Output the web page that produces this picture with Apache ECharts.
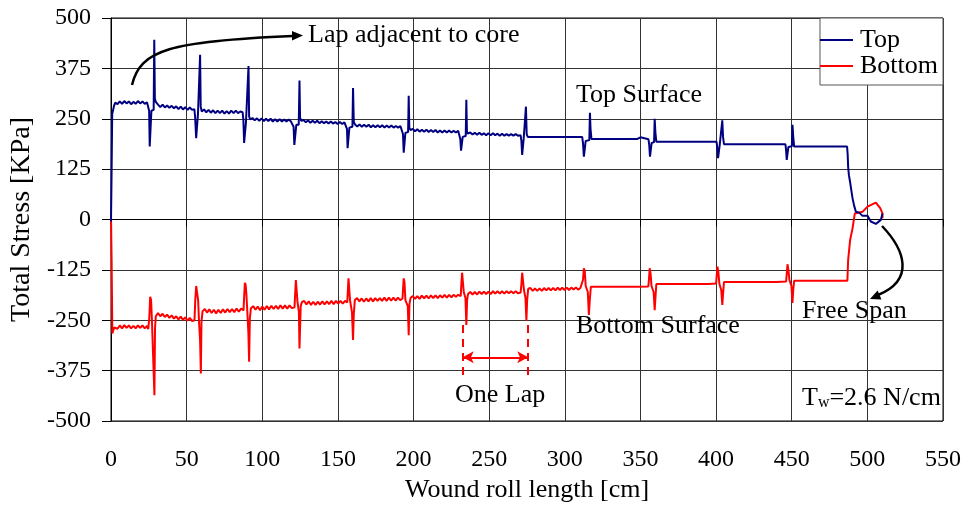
<!DOCTYPE html>
<html>
<head>
<meta charset="utf-8">
<script src="https://cdn.jsdelivr.net/npm/echarts@6/dist/echarts.min.js"></script>
<style>
  html, body { margin: 0; padding: 0; background: #fff; }
  #chart { width: 967px; height: 512px; }
</style>
</head>
<body>
<div id="chart"></div>
<script>
// wound roll length [cm] vs total stress [KPa]
const topData = [
  [0, -5], [0.4, 120], [0.8, 262], [1.5, 265], [2, 282], [2.8, 290],
  [4.3, 286], [5.8, 293], [7.3, 287], [8.8, 294], [10.3, 288], [11.8, 293], [13.3, 286], [14.8, 292],
  [16.3, 287], [17.8, 294], [19.3, 288], [20.8, 293], [22.3, 287], [23.8, 291], [24.8, 289],
  [25.2, 270], [25.6, 181], [26.2, 181], [26.7, 270], [28.2, 272], [28.6, 446], [29.0, 300], [29.6, 292],
  [31.1, 285], [32.6, 279], [34.1, 285], [35.6, 278], [37.1, 283], [38.6, 277], [40.1, 282], [41.6, 276],
  [43.1, 281], [44.6, 274], [46.1, 280], [47.6, 273], [49.1, 279], [50.6, 272], [52.1, 278], [53.6, 272], [55.1, 274],
  [55.6, 255], [56.3, 202], [56.9, 202], [57.5, 262], [58.5, 262], [58.9, 409], [59.3, 280], [60, 268],
  [61.5, 273], [63, 266], [64.5, 272], [66, 265], [67.5, 271], [69, 264], [70.5, 270], [72, 264], [73.5, 270],
  [75, 263], [76.5, 269], [78, 263], [79.5, 270], [81, 264], [82.5, 270], [84, 264], [85.5, 268], [87, 266],
  [87.5, 248], [88, 190], [88.6, 190], [89.2, 240], [90.4, 240], [90.9, 381], [91.3, 256], [92, 248],
  [93.5, 252], [95, 246], [96.5, 251], [98, 245], [99.5, 251], [101, 244], [102.5, 250], [104, 244], [105.5, 250],
  [107, 243], [108.5, 249], [110, 243], [111.5, 249], [113, 243], [114.5, 248], [116, 243], [117.5, 248], [119, 243], [120.3, 245],
  [120.7, 230], [121.2, 185], [121.8, 185], [122.5, 235], [124.1, 235], [124.6, 345], [125, 252], [125.8, 245],
  [127.3, 247], [128.8, 241], [130.3, 246], [131.8, 240], [133.3, 245], [134.8, 240], [136.3, 245], [137.8, 239],
  [139.3, 244], [140.8, 239], [142.3, 243], [143.8, 238], [145.3, 243], [146.8, 238], [148.3, 242], [149.8, 237],
  [151.3, 242], [152.8, 237], [154.3, 241], [155.6, 238],
  [156, 225], [156.4, 177], [157, 177], [157.6, 228], [159.6, 230], [160, 326], [160.5, 242], [161.3, 236],
  [162.8, 231], [164.3, 236], [165.8, 230], [167.3, 235], [168.8, 230], [170.3, 235], [171.8, 229], [173.3, 234],
  [174.8, 229], [176.3, 234], [177.8, 229], [179.3, 234], [180.8, 228], [182.3, 233], [183.8, 228], [185.3, 233],
  [186.8, 228], [188.3, 232], [189.8, 228], [191.3, 232], [192.6, 230],
  [193, 212], [193.5, 166], [194, 166], [194.6, 215], [196.4, 217], [196.8, 307], [197.2, 228], [198, 222],
  [199.5, 225], [201, 219], [202.5, 224], [204, 218], [205.5, 223], [207, 218], [208.5, 223], [210, 217],
  [211.5, 222], [213, 217], [214.5, 222], [216, 216], [217.5, 221], [219, 216], [220.5, 221], [222, 216],
  [223.5, 221], [225, 216], [226.5, 220], [228, 216], [229.5, 220], [230.5, 218],
  [230.9, 200], [231.4, 171], [231.9, 171], [232.5, 205], [234.5, 207], [234.9, 297], [235.3, 218], [236, 213],
  [237.5, 216], [239, 211], [240.5, 215], [242, 210], [243.5, 215], [245, 210], [246.5, 214], [248, 209],
  [249.5, 214], [251, 209], [252.5, 214], [254, 209], [255.5, 213], [257, 208], [258.5, 213], [260, 208],
  [261.5, 212], [263, 208], [264.5, 212], [266, 208], [267.5, 212], [269, 208], [270.8, 209],
  [271.3, 195], [271.8, 160], [272.3, 160], [272.8, 200], [273.9, 202], [274.3, 280], [274.8, 212], [275.5, 205],
  [280, 205], [281, 201], [282, 205], [288, 205], [289, 201], [290, 205], [297, 205], [298, 201], [299, 205],
  [305, 205], [306, 202], [307, 205], [311.5, 205],
  [312, 190], [312.6, 156], [313.2, 156], [313.8, 195], [316.2, 197], [316.6, 265], [317, 225], [317.6, 200],
  [322, 200], [323, 197], [324, 200], [330, 200], [331, 197], [332, 200], [339, 200], [340, 197], [341, 200],
  [348, 200], [349, 204], [350, 204], [351, 200], [355.3, 199],
  [355.8, 185], [356.3, 156], [356.8, 156], [357.4, 190], [359, 192], [359.4, 250], [359.9, 215], [360.5, 193],
  [366, 193], [367, 190], [368, 193], [374, 193], [375, 190], [376, 193], [381, 193], [382, 190], [383, 193],
  [388, 193], [389, 190], [390, 193], [394, 193], [395, 190], [396, 193], [400.3, 193],
  [400.8, 178], [401.3, 152], [401.8, 152], [402.4, 185], [403.7, 187], [404.1, 246], [404.6, 205], [405.2, 187],
  [410, 187], [411, 184], [412, 187], [420, 187], [421, 184], [422, 187], [431, 187], [432, 184], [433, 187],
  [440, 187], [441, 184], [442, 187], [445.8, 187],
  [446.2, 175], [446.7, 148], [447.2, 148], [447.8, 180], [450.1, 182], [450.5, 235], [451, 205], [451.6, 181],
  [486.6, 181],
  [487.0, 160], [487.3, 130], [487.8, 110], [488.5, 95], [489.5, 70], [490.2, 53], [491.2, 35], [492.4, 19],
  [494.6, 17], [496.8, 9], [500.1, 9], [502.3, -5], [505.6, -11], [508.9, -1], [510, 15]
]

const bottomData = [
  [0, 8], [0.4, -100], [0.9, -283], [1.5, -283], [2.1, -268], [2.8, -265],
  [4.3, -271], [5.8, -263], [7.3, -270], [8.8, -262], [10.3, -269], [11.8, -263], [13.3, -270], [14.8, -264],
  [16.3, -270], [17.8, -263], [19.3, -269], [20.8, -263], [22.3, -270], [23.8, -264], [24.6, -272],
  [25.3, -245], [25.9, -192], [26.5, -200], [27.1, -255], [28.3, -255], [28.7, -436], [29.1, -270], [29.6, -240],
  [31.1, -232], [32.6, -240], [34.1, -234], [35.6, -242], [37.1, -236], [38.6, -244], [40.1, -238], [41.6, -246],
  [43.1, -240], [44.6, -248], [46.1, -241], [47.6, -249], [49.1, -243], [50.6, -251], [52.1, -244], [53.6, -252], [55.2, -250],
  [55.7, -200], [56.3, -165], [57, -165], [57.6, -200], [58.2, -255], [58.9, -300], [59.4, -382], [59.8, -255], [60.5, -228],
  [62, -222], [63.5, -231], [65, -223], [66.5, -232], [68, -224], [69.5, -233], [71, -224], [72.5, -232], [74, -223],
  [75.5, -231], [77, -222], [78.5, -230], [80, -222], [81.5, -230], [83, -221], [84.5, -229], [86, -221], [87.6, -226],
  [88.1, -185], [88.5, -157], [89, -162], [89.5, -185], [90.2, -235], [90.8, -280], [91.3, -353], [91.8, -245], [92.5, -220],
  [94, -215], [95.5, -224], [97, -216], [98.5, -225], [100, -216], [101.5, -224], [103, -215], [104.5, -223], [106, -214],
  [107.5, -222], [109, -214], [110.5, -222], [112, -213], [113.5, -221], [115, -213], [116.5, -221], [118, -213], [119.5, -220], [121.3, -218],
  [121.8, -180], [122.2, -150], [122.8, -150], [123.3, -205], [124.2, -230], [124.6, -320], [125, -320], [125.4, -215], [126.2, -205],
  [127.7, -202], [129.2, -211], [130.7, -203], [132.2, -212], [133.7, -204], [135.2, -212], [136.7, -204], [138.2, -211],
  [139.7, -203], [141.2, -211], [142.7, -203], [144.2, -210], [145.7, -202], [147.2, -210], [148.7, -202], [150.2, -209],
  [151.7, -202], [153.2, -209], [154.7, -202], [156.2, -206],
  [156.6, -175], [157, -146], [157.5, -150], [158, -200], [159.3, -230], [160, -299], [160.5, -235], [161.2, -200],
  [162.7, -195], [164.2, -203], [165.7, -196], [167.2, -204], [168.7, -196], [170.2, -203], [171.7, -195], [173.2, -203],
  [174.7, -195], [176.2, -202], [177.7, -195], [179.2, -202], [180.7, -194], [182.2, -202], [183.7, -194], [185.2, -201],
  [186.7, -194], [188.2, -201], [189.7, -194], [191.2, -200], [192.7, -196],
  [193.1, -170], [193.5, -146], [194, -155], [194.6, -200], [196.2, -215], [196.8, -287], [197.3, -210], [198, -195],
  [199.5, -190], [201, -197], [202.5, -190], [204, -197], [205.5, -189], [207, -196], [208.5, -189], [210, -196],
  [211.5, -188], [213, -195], [214.5, -188], [216, -195], [217.5, -188], [219, -194], [220.5, -187], [222, -194],
  [223.5, -187], [225, -193], [226.5, -187], [228, -192], [229.5, -187], [231.2, -190],
  [231.6, -160], [232.1, -132], [232.6, -132], [233.2, -180], [234.3, -195], [234.9, -262], [235.4, -200], [236, -185],
  [237.5, -180], [239, -186], [240.5, -180], [242, -186], [243.5, -179], [245, -185], [246.5, -179], [248, -185],
  [249.5, -179], [251, -185], [252.5, -178], [254, -184], [255.5, -178], [257, -184], [258.5, -178], [260, -184],
  [261.5, -178], [263, -183], [264.5, -178], [266, -183], [267.5, -178], [269, -183], [270.8, -181],
  [271.3, -160], [271.8, -132], [272.4, -135], [273, -175], [274, -195], [274.6, -251], [275.1, -200], [275.8, -172],
  [277.3, -170], [278.8, -177], [280.3, -171], [281.8, -177], [283.3, -171], [284.8, -177], [286.3, -170], [287.8, -176],
  [289.3, -170], [290.8, -176], [292.3, -170], [293.8, -176], [295.3, -169], [296.8, -175], [298.3, -169], [299.8, -175],
  [301.3, -169], [302.8, -175], [304.3, -169], [305.8, -174], [307.3, -169], [308.8, -174], [310.3, -170], [311.6, -172],
  [312, -150], [312.6, -121], [313.2, -128], [313.8, -165], [315.2, -180], [315.9, -237], [316.5, -200], [317.2, -167],
  [322, -167], [323, -164], [324, -167], [330, -167], [331, -164], [332, -167], [338, -167], [339, -164], [340, -167],
  [346, -167], [347, -164], [348, -167], [355.2, -166],
  [355.6, -150], [356.1, -121], [356.7, -135], [357.3, -165], [358.7, -180], [359.4, -225], [359.9, -195], [360.5, -160],
  [366, -160], [367, -157], [368, -160], [375, -160], [376, -157], [377, -160], [384, -160], [385, -157], [386, -160],
  [393, -160], [394, -157], [395, -160], [400, -159],
  [400.4, -140], [400.9, -117], [401.5, -130], [402.2, -160], [403.4, -175], [404.1, -212], [404.6, -185], [405.2, -155],
  [420, -155], [421, -153], [422, -155], [440, -155], [446.3, -154],
  [446.7, -135], [447.2, -111], [447.8, -125], [448.5, -150], [449.8, -165], [450.5, -207], [451, -175], [451.6, -152],
  [486.8, -152],
  [487.3, -100], [488.6, -51], [490.2, -22], [491.7, 15], [496.8, 19], [500.1, 32], [505.6, 42], [508.5, 28],
  [510, 15], [510, 3]
]

// "One Lap" marker: lap start / end positions and the span of the dashed guides
const lapStart = 232.5
const lapEnd = 275.8
const lapGuide = [-262, -394]
const lapArrowY = -342

const FONT = '"Liberation Serif", "Times New Roman", serif'
const BLUE = '#000080'
const RED = '#ff0000'

const chart = echarts.init(document.getElementById('chart'))

chart.setOption({
  animation: false,
  backgroundColor: '#fff',
  textStyle: { fontFamily: FONT, color: '#000' },
  grid: {
    left: 111, right: 24, top: 18, bottom: 91,
    show: true, borderColor: '#000', borderWidth: 1
  },
  legend: {
    data: ['Top', 'Bottom'],
    orient: 'vertical',
    right: 24,
    top: 18,
    icon: 'rect',
    itemWidth: 33,
    itemHeight: 2,
    itemGap: 0,
    padding: [9, 5, 6, 0],
    backgroundColor: '#fff',
    borderColor: '#555',
    borderWidth: 1,
    textStyle: { fontFamily: FONT, fontSize: 26, color: '#000', lineHeight: 23, padding: [0, 0, 0, 2] }
  },
  xAxis: {
    type: 'value',
    min: 0, max: 550, interval: 50,
    name: 'Wound roll length [cm]',
    nameLocation: 'middle',
    nameGap: 54,
    nameTextStyle: { fontFamily: FONT, fontSize: 26, color: '#000' },
    axisLine: { lineStyle: { color: '#000', width: 1 } },
    axisTick: { show: true, inside: false, length: 7, lineStyle: { color: '#000' } },
    axisLabel: { fontFamily: FONT, fontSize: 24, color: '#000', margin: 27 },
    splitLine: { show: true, lineStyle: { color: '#333', width: 1 } }
  },
  yAxis: {
    type: 'value',
    min: -500, max: 500, interval: 125,
    name: 'Total Stress [KPa]',
    nameLocation: 'middle',
    nameGap: 74,
    nameTextStyle: { fontFamily: FONT, fontSize: 28, color: '#000' },
    axisLine: { show: true, lineStyle: { color: '#000', width: 1 } },
    axisTick: { show: true, inside: false, length: 9, lineStyle: { color: '#000' } },
    axisLabel: { fontFamily: FONT, fontSize: 24, color: '#000', margin: 20 },
    splitLine: { show: true, lineStyle: { color: '#333', width: 1 } }
  },
  series: [
    {
      name: 'Top',
      type: 'line',
      data: topData,
      showSymbol: false,
      color: BLUE,
      lineStyle: { color: BLUE, width: 2 },
      z: 3
    },
    {
      name: 'Bottom',
      type: 'line',
      data: bottomData,
      showSymbol: false,
      color: RED,
      lineStyle: { color: RED, width: 2 },
      z: 2,
      markLine: {
        silent: true,
        symbol: ['none', 'none'],
        label: { show: false },
        data: [
          [
            { coord: [lapStart, lapGuide[0]], lineStyle: { color: RED, width: 2, type: [8, 6] } },
            { coord: [lapStart, lapGuide[1]] }
          ],
          [
            { coord: [lapEnd, lapGuide[0]], lineStyle: { color: RED, width: 2, type: [8, 6] } },
            { coord: [lapEnd, lapGuide[1]] }
          ],
          [
            { coord: [lapStart, lapArrowY], symbol: 'arrow', symbolSize: [9, 11], lineStyle: { color: RED, width: 2, type: 'solid' } },
            { coord: [lapEnd, lapArrowY], symbol: 'arrow', symbolSize: [9, 11] }
          ]
        ]
      }
    }
  ],
  graphic: [
    // arrow to the first lap spike
    {
      type: 'bezierCurve',
      shape: { x1: 132, y1: 85, cpx1: 140, cpy1: 50, cpx2: 170, cpy2: 41, x2: 293, y2: 36 },
      style: { stroke: '#000', lineWidth: 2.5, fill: null },
      z: 10
    },
    {
      type: 'polygon',
      shape: { points: [[303, 35.5], [292, 31], [292, 40.5]] },
      style: { fill: '#000' },
      z: 10
    },
    {
      type: 'text', left: 308, top: 22, z: 10,
      style: { text: 'Lap adjacent to core', font: '26px ' + FONT, fill: '#000' }
    },
    {
      type: 'text', left: 576, top: 82, z: 10,
      style: { text: 'Top Surface', font: '26px ' + FONT, fill: '#000' }
    },
    {
      type: 'text', left: 576, top: 313, z: 10,
      style: { text: 'Bottom Surface', font: '26px ' + FONT, fill: '#000' }
    },
    {
      type: 'text', left: 802, top: 298, z: 10,
      style: { text: 'Free Span', font: '26px ' + FONT, fill: '#000' }
    },
    // arrow pointing at the free span loop
    {
      type: 'bezierCurve',
      shape: { x1: 882, y1: 226, cpx1: 905, cpy1: 250, cpx2: 915, cpy2: 280, x2: 878, y2: 295 },
      style: { stroke: '#000', lineWidth: 2.5, fill: null },
      z: 10
    },
    {
      type: 'polygon',
      shape: { points: [[870, 299], [881.5, 299.4], [877.6, 290.5]] },
      style: { fill: '#000' },
      z: 10
    },
    {
      type: 'text', left: 455, top: 382, z: 10,
      style: { text: 'One Lap', font: '26px ' + FONT, fill: '#000' }
    },
    {
      type: 'text', left: 802, top: 385, z: 10,
      style: {
        text: '{a|T}{b|w}{a|=2.6 N/cm}',
        rich: {
          a: { font: '26px ' + FONT, fill: '#000', verticalAlign: 'bottom' },
          b: { font: '16px ' + FONT, fill: '#000', verticalAlign: 'bottom', padding: [0, 0, 0, 0] }
        }
      }
    }
  ]
})
</script>
</body>
</html>
